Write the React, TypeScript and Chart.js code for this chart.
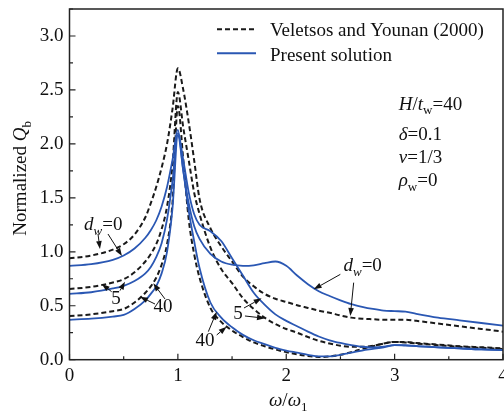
import { useEffect, useRef } from 'react';
import { Chart, registerables } from 'chart.js';

Chart.register(...registerables);

// ---------- data ----------
const omega = [0, 0.2, 0.4, 0.5, 0.6, 0.7, 0.75, 0.8, 0.85, 0.9, 0.95, 1.0, 1.05, 1.1, 1.15, 1.2, 1.3, 1.4, 1.5, 1.6, 1.7, 1.8, 1.9, 2.0, 2.1, 2.2, 2.3, 2.4, 2.5, 2.6, 2.7, 2.8, 2.9, 3.0, 3.1, 3.2, 3.4, 3.6, 3.8, 4.0];

const veletsosD0 = [0.94, 0.965, 1.02, 1.07, 1.16, 1.32, 1.45, 1.6, 1.78, 2.0, 2.32, 2.7, 2.5, 2.2, 1.85, 1.49, 1.22, 1.05, 0.91, 0.77, 0.68, 0.61, 0.565, 0.535, 0.505, 0.48, 0.455, 0.435, 0.41, 0.39, 0.38, 0.375, 0.37, 0.37, 0.37, 0.36, 0.335, 0.31, 0.285, 0.26];
const veletsosD5 = [0.655, 0.675, 0.715, 0.745, 0.81, 0.91, 0.98, 1.07, 1.21, 1.42, 1.8, 2.48, 2.15, 1.85, 1.55, 1.35, 1.04, 0.84, 0.71, 0.57, 0.47, 0.39, 0.33, 0.285, 0.25, 0.21, 0.175, 0.15, 0.13, 0.12, 0.12, 0.13, 0.15, 0.165, 0.165, 0.155, 0.14, 0.125, 0.115, 0.105];
const veletsosD40 = [0.405, 0.42, 0.45, 0.47, 0.53, 0.62, 0.68, 0.76, 0.88, 1.07, 1.45, 2.35, 1.85, 1.3, 0.98, 0.76, 0.48, 0.35, 0.27, 0.21, 0.16, 0.125, 0.095, 0.07, 0.05, 0.035, 0.025, 0.03, 0.045, 0.07, 0.1, 0.125, 0.15, 0.165, 0.16, 0.15, 0.135, 0.12, 0.11, 0.1];

const presentD0 = [0.87, 0.885, 0.925, 0.965, 1.03, 1.13, 1.2, 1.29, 1.42, 1.6, 1.85, 2.13, 1.75, 1.45, 1.24, 1.12, 0.98, 0.91, 0.88, 0.87, 0.875, 0.895, 0.91, 0.87, 0.78, 0.7, 0.635, 0.59, 0.55, 0.515, 0.49, 0.47, 0.455, 0.45, 0.445, 0.425, 0.39, 0.365, 0.34, 0.315];
const presentD5 = [0.61, 0.625, 0.66, 0.685, 0.73, 0.8, 0.86, 0.95, 1.08, 1.3, 1.65, 2.1, 1.85, 1.55, 1.35, 1.25, 1.19, 1.1, 0.94, 0.78, 0.62, 0.51, 0.42, 0.36, 0.31, 0.26, 0.215, 0.18, 0.155, 0.135, 0.12, 0.115, 0.12, 0.135, 0.135, 0.125, 0.115, 0.105, 0.095, 0.09];
const presentD40 = [0.37, 0.38, 0.4, 0.415, 0.47, 0.55, 0.61, 0.68, 0.8, 1.0, 1.4, 2.08, 1.75, 1.38, 1.1, 0.85, 0.53, 0.39, 0.3, 0.23, 0.18, 0.145, 0.11, 0.085, 0.065, 0.045, 0.03, 0.03, 0.045, 0.065, 0.085, 0.1, 0.115, 0.135, 0.13, 0.125, 0.115, 0.105, 0.095, 0.09];

const xTickValues = [0, 1, 2, 3, 4];
const yTickValues = [0, 0.5, 1.0, 1.5, 2.0, 2.5, 3.0];
const legendLabels = ['Veletsos and Younan (2000)', 'Present solution'];

// ---------- styles / layout ----------
const FONT = '"Liberation Serif", "Times New Roman", serif';
const FS = 19;
const BLUE = '#2a57b3';
const BLACK = '#1a1a1a';

type Part = { t: string; it?: boolean; sub?: boolean };

const fontOf = (p: Part, size: number) =>
  `${p.it ? 'italic ' : ''}${p.sub ? Math.round(size * 0.68) : size}px ${FONT}`;

function drawRich(ctx: CanvasRenderingContext2D, parts: Part[], x: number, y: number, size: number, align: 'left' | 'center') {
  const ws = parts.map((p) => {
    ctx.font = fontOf(p, size);
    return ctx.measureText(p.t).width;
  });
  const total = ws.reduce((a, b) => a + b, 0);
  let cx = align === 'center' ? x - total / 2 : x;
  ctx.textBaseline = 'alphabetic';
  ctx.textAlign = 'left';
  parts.forEach((p, i) => {
    ctx.font = fontOf(p, size);
    ctx.fillText(p.t, cx, p.sub ? y + size * 0.24 : y);
    cx += ws[i];
  });
}

const dw0: Part[] = [{ t: 'd', it: true }, { t: 'w', it: true, sub: true }, { t: '=0' }];

// annotation labels: data coordinates of left edge / centre (vertical centre)
const annoLabels: { parts: Part[]; x: number; y: number; align: 'left' | 'center' }[] = [
  { parts: dw0, x: 0.134, y: 1.258, align: 'left' },
  { parts: [{ t: '5' }], x: 0.429, y: 0.572, align: 'center' },
  { parts: [{ t: '40' }], x: 0.863, y: 0.498, align: 'center' },
  { parts: [{ t: '5' }], x: 1.555, y: 0.433, align: 'center' },
  { parts: [{ t: '40' }], x: 1.25, y: 0.183, align: 'center' },
  { parts: dw0, x: 2.528, y: 0.878, align: 'left' },
  { parts: [{ t: 'H', it: true }, { t: '/' }, { t: 't', it: true }, { t: 'w', sub: true }, { t: '=40' }], x: 3.038, y: 2.376, align: 'left' },
  { parts: [{ t: 'δ', it: true }, { t: '=0.1' }], x: 3.038, y: 2.098, align: 'left' },
  { parts: [{ t: 'ν', it: true }, { t: '=1/3' }], x: 3.038, y: 1.881, align: 'left' },
  { parts: [{ t: 'ρ', it: true }, { t: 'w', sub: true }, { t: '=0' }], x: 3.038, y: 1.665, align: 'left' },
];

// arrows [x1, y1, x2(head), y2(head)] in data coordinates
const arrows: number[][] = [
  [0.263, 1.165, 0.281, 1.026],
  [0.355, 1.165, 0.484, 0.961],
  [0.389, 0.63, 0.297, 0.702],
  [0.466, 0.64, 0.512, 0.723],
  [0.789, 0.516, 0.65, 0.584],
  [0.881, 0.563, 0.773, 0.708],
  [1.61, 0.479, 1.773, 0.569],
  [1.619, 0.405, 1.804, 0.384],
  [1.281, 0.26, 1.358, 0.445],
  [1.358, 0.229, 1.45, 0.306],
  [2.499, 0.791, 2.253, 0.652],
  [2.622, 0.714, 2.591, 0.405],
];

const decorPlugin = {
  id: 'decor',
  afterDraw(chart: any) {
    const ctx: CanvasRenderingContext2D = chart.ctx;
    const { left, right, top, bottom } = chart.chartArea;
    const xs = chart.scales.x;
    const ys = chart.scales.y;
    const px = (v: number) => xs.getPixelForValue(v);
    const py = (v: number) => ys.getPixelForValue(v);
    ctx.save();

    // frame
    ctx.strokeStyle = '#222';
    ctx.lineWidth = 1.5;
    ctx.strokeRect(left, top, right - left, bottom - top);

    // inward ticks
    ctx.lineWidth = 1.2;
    ctx.beginPath();
    for (let v = 0; v <= 4.001; v += 0.5) {
      const major = Math.abs(v - Math.round(v)) < 1e-6;
      const x = px(v);
      ctx.moveTo(x, bottom);
      ctx.lineTo(x, bottom - (major ? 6 : 3.5));
    }
    for (let v = 0; v <= 3.25; v += 0.25) {
      const major = Math.abs(v * 2 - Math.round(v * 2)) < 1e-6;
      const y = py(v);
      ctx.moveTo(left, y);
      ctx.lineTo(left + (major ? 6 : 3.5), y);
    }
    ctx.stroke();

    ctx.fillStyle = '#111';

    // legend
    const lx1 = px(1.361), lx2 = px(1.721), tx = px(1.85);
    ctx.lineWidth = 2;
    ctx.strokeStyle = BLACK;
    ctx.setLineDash([5, 3]);
    ctx.beginPath();
    ctx.moveTo(lx1, py(3.062));
    ctx.lineTo(lx2, py(3.062));
    ctx.stroke();
    ctx.setLineDash([]);
    ctx.strokeStyle = BLUE;
    ctx.beginPath();
    ctx.moveTo(lx1, py(2.84));
    ctx.lineTo(lx2, py(2.84));
    ctx.stroke();
    drawRich(ctx, [{ t: legendLabels[0] }], tx, py(3.056) + FS * 0.33, FS, 'left');
    drawRich(ctx, [{ t: legendLabels[1] }], tx, py(2.824) + FS * 0.33, FS, 'left');

    // annotation labels
    annoLabels.forEach((a) => drawRich(ctx, a.parts, px(a.x), py(a.y) + FS * 0.33, FS, a.align));

    // arrows
    ctx.strokeStyle = '#111';
    ctx.lineWidth = 1;
    arrows.forEach(([x1, y1, x2, y2]) => {
      const ax = px(x1), ay = py(y1), bx = px(x2), by = py(y2);
      const ang = Math.atan2(by - ay, bx - ax);
      const hl = 8, hw = 2.8;
      const baseX = bx - hl * Math.cos(ang), baseY = by - hl * Math.sin(ang);
      ctx.beginPath();
      ctx.moveTo(ax, ay);
      ctx.lineTo(baseX, baseY);
      ctx.stroke();
      ctx.beginPath();
      ctx.moveTo(bx, by);
      ctx.lineTo(baseX + hw * Math.sin(ang), baseY - hw * Math.cos(ang));
      ctx.lineTo(baseX - hw * Math.sin(ang), baseY + hw * Math.cos(ang));
      ctx.closePath();
      ctx.fill();
    });

    // axis titles
    drawRich(ctx, [{ t: 'ω', it: true }, { t: '/' }, { t: 'ω', it: true }, { t: '1', sub: true }], (left + right) / 2 + 2, 406, FS, 'center');
    ctx.save();
    ctx.translate(26, (top + bottom) / 2 - 6);
    ctx.rotate(-Math.PI / 2);
    drawRich(ctx, [{ t: 'Normalized ' }, { t: 'Q', it: true }, { t: 'b', sub: true }], 0, 0, FS, 'center');
    ctx.restore();

    ctx.restore();
  },
};

export default function App() {
  const ref = useRef<HTMLCanvasElement>(null);

  useEffect(() => {
    const canvas = ref.current;
    if (!canvas) return;
    const mk = (arr: number[]) => omega.map((x, i) => ({ x, y: arr[i] }));
    const blue = (arr: number[]) => ({
      data: mk(arr),
      borderColor: BLUE,
      borderWidth: 1.8,
      pointRadius: 0,
      cubicInterpolationMode: 'monotone' as const,
      fill: false,
    });
    const dashed = (arr: number[]) => ({
      data: mk(arr),
      borderColor: BLACK,
      borderWidth: 2,
      borderDash: [5, 3],
      pointRadius: 0,
      cubicInterpolationMode: 'monotone' as const,
      fill: false,
    });

    const chart = new Chart(canvas, {
      type: 'line',
      data: {
        datasets: [
          blue(presentD0),
          blue(presentD5),
          blue(presentD40),
          dashed(veletsosD0),
          dashed(veletsosD5),
          dashed(veletsosD40),
        ] as any,
      },
      options: {
        animation: false,
        responsive: false,
        devicePixelRatio: 1,
        layout: { padding: { top: 9, right: 1, left: 0, bottom: 0 } },
        plugins: { legend: { display: false }, tooltip: { enabled: false } },
        scales: {
          x: {
            type: 'linear',
            min: 0,
            max: 4,
            afterBuildTicks: (s: any) => {
              s.ticks = xTickValues.map((v) => ({ value: v }));
            },
            ticks: {
              color: '#111',
              font: { family: FONT, size: FS },
              padding: 5,
              maxRotation: 0,
              autoSkip: false,
              callback: (v: any) => String(v),
            },
            grid: { display: false, drawTicks: false },
            border: { display: false },
            afterFit: (s: any) => {
              s.height = 413 - 359.7;
              s.paddingLeft = 0;
              s.paddingRight = 0;
            },
          },
          y: {
            type: 'linear',
            min: 0,
            max: 3.25,
            afterBuildTicks: (s: any) => {
              s.ticks = yTickValues.map((v) => ({ value: v }));
            },
            ticks: {
              color: '#111',
              font: { family: FONT, size: FS },
              padding: 6,
              callback: (v: any) => Number(v).toFixed(1),
            },
            grid: { display: false, drawTicks: false },
            border: { display: false },
            afterFit: (s: any) => {
              s.width = 69.5;
              s.paddingTop = 0;
              s.paddingBottom = 0;
            },
          },
        },
      },
      plugins: [decorPlugin],
    });
    return () => chart.destroy();
  }, []);

  return (
    <div style={{ position: 'fixed', left: 0, top: 0, width: 504, height: 413, overflow: 'hidden', background: '#fff' }}>
      <canvas ref={ref} width={504} height={413} style={{ display: 'block', width: 504, height: 413 }} />
    </div>
  );
}
